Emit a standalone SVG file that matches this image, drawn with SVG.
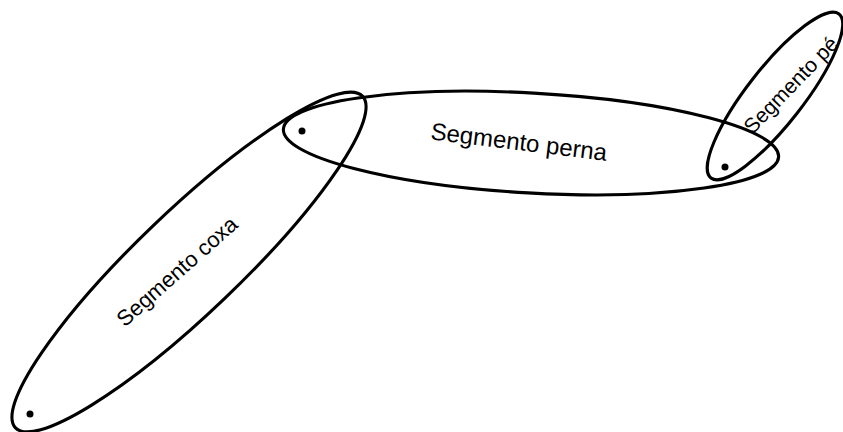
<svg xmlns="http://www.w3.org/2000/svg" width="843" height="432" viewBox="0 0 843 432">
<style>
.seg{fill:none;stroke:#000;stroke-width:3.1}
.dot{fill:#000}
.lbl{font-family:"Liberation Sans",Arial,sans-serif;fill:#000;text-anchor:middle}
</style>
<rect width="843" height="432" fill="#fff"/>
<g id="coxa">
<ellipse class="seg" cx="189" cy="262" rx="240" ry="51" transform="rotate(-43.7 189 262)"/>
<text class="lbl" font-size="22" transform="translate(182 277) rotate(-41.5)">Segmento coxa</text>
</g>
<g id="perna">
<ellipse class="seg" cx="531" cy="143" rx="248" ry="50" transform="rotate(3.2 531 143)"/>
<text class="lbl" font-size="24" transform="translate(518 150) rotate(7)">Segmento perna</text>
</g>
<g id="pe">
<ellipse class="seg" cx="775" cy="96" rx="104" ry="28" transform="rotate(-52 775 96)"/>
<text class="lbl" font-size="21" transform="translate(796 90) rotate(-46)">Segmento pé</text>
</g>
<g id="joints">
<circle class="dot" cx="302" cy="131" r="3.5"/>
<circle class="dot" cx="30" cy="414" r="3.5"/>
<circle class="dot" cx="725" cy="167" r="3.5"/>
</g>
</svg>
